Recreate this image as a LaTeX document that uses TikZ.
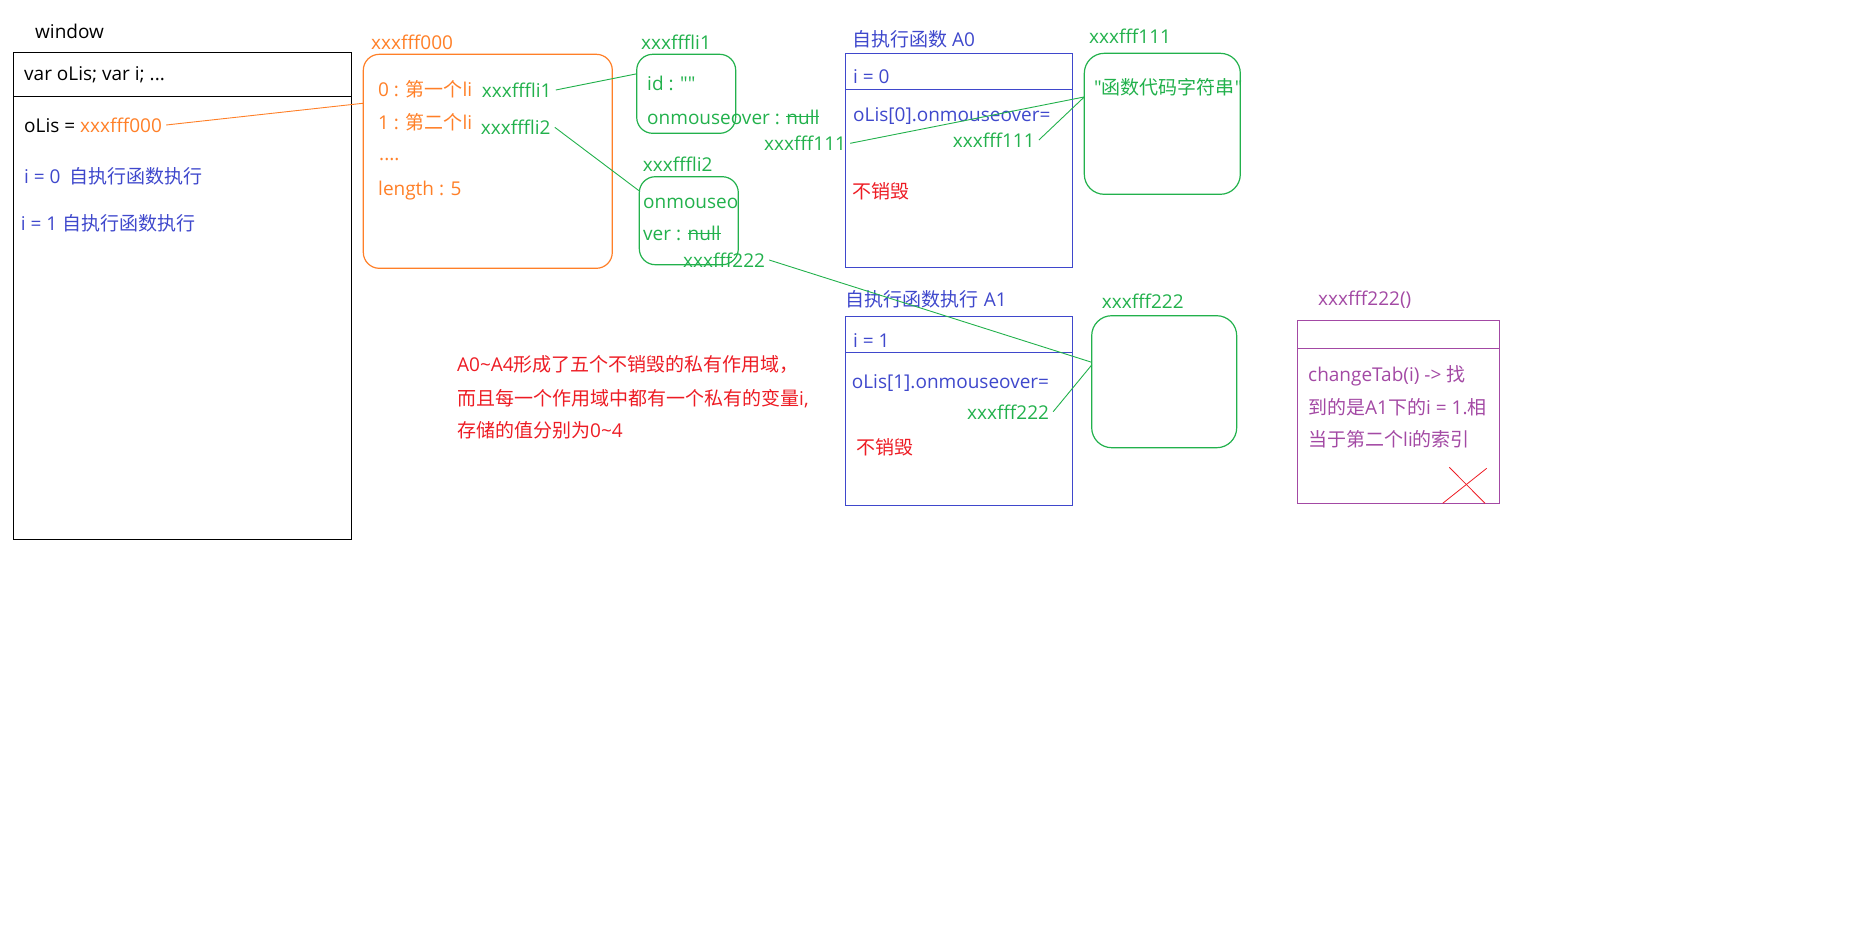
\documentclass[tikz,border=0pt]{standalone}
\usepackage{fontspec}
\setmainfont{Open Sans}[Ligatures=TeXOff]
\newfontfamily\cjk{Noto Sans CJK SC}
\usepackage{tikz}
\usetikzlibrary{positioning}
\definecolor{porange}{RGB}{255,127,39}
\definecolor{pgreen}{RGB}{34,177,76}
\definecolor{pblue}{RGB}{63,72,204}
\definecolor{pred}{RGB}{237,28,36}
\definecolor{ppurple}{RGB}{163,73,164}
\newsavebox\strikebox
\newcommand\strikeout[1]{\sbox\strikebox{#1}\rlap{\usebox\strikebox}\rule[0.38em]{\wd\strikebox}{0.9pt}}

\begin{document}
\begin{tikzpicture}[x=1pt,y=-1pt,
	every node/.style={font=\fontsize{19}{24}\selectfont},
	txt/.style={anchor=west,inner xsep=4pt,inner ysep=0pt,text height=15pt,text depth=0pt},
	frame/.style={draw,anchor=north west,outer sep=0pt,inner sep=0pt,line width=1.2pt},
	rbox/.style={frame,rounded corners=16pt},
	link/.style={pgreen,line width=0.9pt}]
	\useasboundingbox (0,0) rectangle (1854,930);
	\node[frame,minimum width=338pt,minimum height=487pt] (win) at (13.3,52.3) {};
	\draw[line width=1.2pt] ([yshift=-44pt]win.north west) -- ([yshift=-44pt]win.north east);
	\node[txt] (winlbl) at (31,31) {window};
	\node[txt] (var) at (20,73.3) {var oLis; var i; ...};
	\node[txt] (olis) at (20,125) {oLis = \textcolor{porange}{xxxfff000}};
	\node[txt,pblue] (i0) at (20,175.7) {i = 0\hspace{9pt}{\cjk 自执行函数执行}};
	\node[txt,pblue] (i1) at (16.7,223.3) {i = 1 {\cjk 自执行函数执行}};
	\node[rbox,porange,minimum width=249pt,minimum height=214pt] (arr) at (363.3,54.3) {};
	\node[txt,porange] (arrlbl) at (367,42.3) {xxxfff000};
	\node[txt,porange] (e0) at (374,89.3) {0 : {\cjk 第一个}li};
	\node[txt,porange] (e1) at (374,121.7) {1 : {\cjk 第二个}li};
	\node[txt,porange] (dots) at (375,152.5) {....};
	\node[txt,porange] (len) at (374,188.3) {length : 5};
	\node[txt,pgreen] (p1) at (477.7,90) {xxxfffli1};
	\node[txt,pgreen] (p2) at (476.7,127.3) {xxxfffli2};
	\node[rbox,pgreen,minimum width=99pt,minimum height=79pt] (li1) at (636.7,54.3) {};
	\node[txt,pgreen] (li1lbl) at (637,42.3) {xxxfffli1};
	\node[txt,pgreen] (id) at (643,82.7) {id : ""};
	\node[txt,pgreen] (om1) at (643,116.7) {onmouseover : \strikeout{null}};
	\node[rbox,pgreen,minimum width=99pt,minimum height=88pt] (li2) at (639.3,176.7) {};
	\node[txt,pgreen] (li2lbl) at (638.7,164.3) {xxxfffli2};
	\node[txt,pgreen] (om2a) at (639,201) {onmouseo};
	\node[txt,pgreen] (om2b) at (639,233.3) {ver : \strikeout{null}};
	\node[txt,pgreen] (p222a) at (679,260) {xxxfff222};
	\node[txt,pgreen] (p111a) at (760,143.3) {xxxfff111};
	\node[frame,pblue,minimum width=227pt,minimum height=214pt] (a0) at (845.7,53.3) {};
	\draw[pblue,line width=1.2pt] ([yshift=-36pt]a0.north west) -- ([yshift=-36pt]a0.north east);
	\node[txt,pblue] (a0lbl) at (848,39.3) {{\cjk 自执行函数} A0};
	\node[txt,pblue] (a0i) at (849,76) {i = 0};
	\node[txt,pblue] (a0on) at (849,114) {oLis[0].onmouseover=};
	\node[txt,pgreen] (p111b) at (948.7,140) {xxxfff111};
	\node[txt,pred] (a0keep) at (848,191) {\cjk 不销毁};
	\node[rbox,pgreen,minimum width=156pt,minimum height=141pt,rounded corners=20pt] (f111) at (1084.3,53.3) {};
	\node[txt,pgreen] (f111lbl) at (1085,36) {xxxfff111};
	\node[txt,pgreen] (f111txt) at (1090,87.3) {"{\cjk 函数代码字符串}"};
	\node[txt,pred] (note1) at (453,364.3) {A0\textasciitilde A4{\cjk 形成了五个不销毁的私有作用域，}};
	\node[txt,pred] (note2) at (453,397.7) {{\cjk 而且每一个作用域中都有一个私有的变量}i,};
	\node[txt,pred] (note3) at (453,430) {{\cjk 存储的值分别为}0\textasciitilde 4};
	\node[frame,pblue,minimum width=227pt,minimum height=189pt] (a1) at (845.7,316.7) {};
	\draw[pblue,line width=1.2pt] ([yshift=-35.6pt]a1.north west) -- ([yshift=-35.6pt]a1.north east);
	\node[txt,pblue] (a1lbl) at (841.7,299.3) {{\cjk 自执行函数执行} A1};
	\node[txt,pblue] (a1i) at (849,340) {i = 1};
	\node[txt,pblue] (a1on) at (847.7,380.7) {oLis[1].onmouseover=};
	\node[txt,pgreen] (p222b) at (963,411.7) {xxxfff222};
	\node[txt,pred] (a1keep) at (852,446.7) {\cjk 不销毁};
	\node[rbox,pgreen,minimum width=145pt,minimum height=132pt,rounded corners=20pt] (f222) at (1091.7,315.7) {};
	\node[txt,pgreen] (f222lbl) at (1097.7,300.7) {xxxfff222};
	\node[frame,ppurple,minimum width=202pt,minimum height=183pt] (fn) at (1297.3,320.7) {};
	\draw[ppurple,line width=1.2pt] ([yshift=-27.6pt]fn.north west) -- ([yshift=-27.6pt]fn.north east);
	\node[txt,ppurple] (fnlbl) at (1314,298.3) {xxxfff222()};
	\node[txt,ppurple] (fn1) at (1304,374) {changeTab(i) -> {\cjk 找}};
	\node[txt,ppurple] (fn2) at (1304,406.7) {{\cjk 到的是}A1{\cjk 下的}i = 1.{\cjk 相}};
	\node[txt,ppurple] (fn3) at (1304,439.3) {{\cjk 当于第二个}li{\cjk 的索引}};
	\draw[pred,line width=0.8pt] (1449.3,467.3) -- (1485,503.3);
	\draw[pred,line width=0.8pt] (1486.7,468.3) -- (1442.7,503.3);
	\draw[porange,line width=0.9pt] (olis.east) -- (arr.155);
	\draw[link] (p1.east) -- (li1.158);
	\draw[link] (p2.east) -- (li2.149);
	\draw[link] (p111a.east) -- (f111.161);
	\draw[link] (p111b.east) -- (f111.161);
	\draw[link] (p222a.east) -- (f222.165);
	\draw[link] (p222b.east) -- (f222.167);
\end{tikzpicture}
\end{document}
